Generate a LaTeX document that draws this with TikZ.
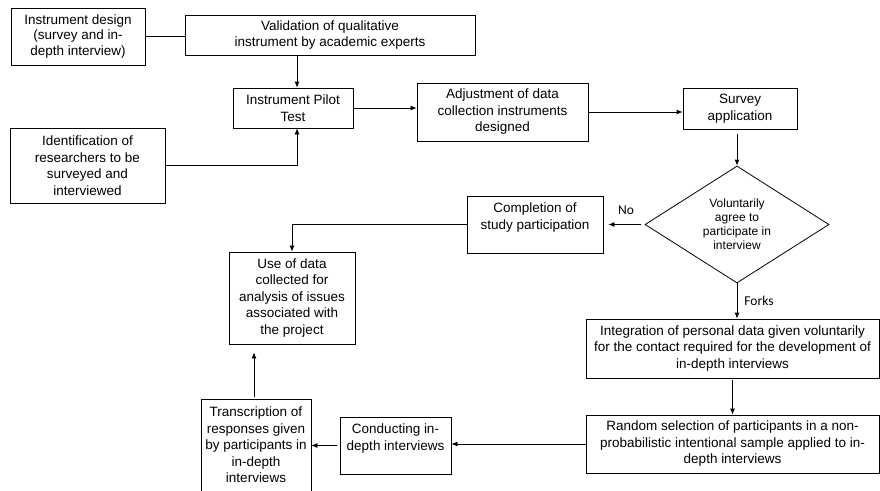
\documentclass[tikz,border=0pt]{standalone}
\usepackage{fontspec}
\setmainfont{Liberation Sans}
\newfontfamily\labelfont{Carlito}
\usetikzlibrary{arrows.meta, shapes.geometric}

\begin{document}
\begin{tikzpicture}[x=1pt, y=-1pt, line width=0.8pt,
        box/.style={draw, align=center, inner sep=0pt, font=\fontsize{13.5}{16.5}\selectfont},
        arr/.style={-{Latex[length=6pt, width=5pt]}},
        every label/.style={font=\labelfont\fontsize{13.5}{16}\selectfont}]
            \useasboundingbox (0,0) rectangle (880,490);
            \clip (0,0) rectangle (880,490);

            \node[box, minimum width=134pt, minimum height=57pt, font=\fontsize{13.5}{15.2}\selectfont] (design) at (78,36.5) {Instrument design\\(survey and in-\\depth interview)};
            \node[box, minimum width=290pt, minimum height=40pt] (valid) at (330,35) {Validation of qualitative\\instrument by academic experts};
            \node[box, minimum width=120pt, minimum height=40pt] (pilot) at (293,108) {Instrument Pilot\\Test};
            \node[box, minimum width=155pt, minimum height=75pt] (ident) at (87.5,165.5) {Identification of\\researchers to be\\surveyed and\\interviewed};
            \node[box, minimum width=171pt, minimum height=58pt] (adjust) at (502.5,112) {Adjustment of data\\collection instruments\\designed};
            \node[box, minimum width=114pt, minimum height=41pt] (survey) at (740,108.5) {Survey\\application};
            \node[draw, shape=diamond, aspect=1.6, inner sep=0pt, minimum width=184pt, minimum height=117pt, align=center, font=\fontsize{12}{14}\selectfont] (agree) at (737,224.5) {Voluntarily\\agree to\\participate in\\interview};
            \node[box, minimum width=136pt, minimum height=57pt] (complete) at (535,224.5) {Completion of\\study participation\\ };
            \node[box, minimum width=126pt, minimum height=92pt] (usedata) at (292,298) {Use of data\\collected for\\analysis of issues\\associated with\\the project};
            \node[box, minimum width=293pt, minimum height=59pt] (integ) at (732.5,348.5) {Integration of personal data given voluntarily\\for the contact required for the development of\\in-depth interviews};
            \node[box, minimum width=293pt, minimum height=58pt] (random) at (732.5,444) {Random selection of participants in a non-\\probabilistic intentional sample applied to in-\\depth interviews};
            \node[box, minimum width=111pt, minimum height=57pt] (conduct) at (395.5,445.5) {Conducting in-\\depth interviews\\ };
            \node[box, minimum width=110pt, minimum height=92pt] (transcr) at (256,445) {Transcription of\\responses given\\by participants in\\in-depth\\interviews};

            \draw (design.east) -- (design.east -| valid.west);
            \draw[arr] ([xshift=4pt]pilot.north |- valid.south) -- ([xshift=4pt]pilot.north);
            \draw[arr] (ident.east) -| ([xshift=4pt]pilot.south);
            \draw[arr] (pilot.east) -- (pilot.east -| adjust.west);
            \draw[arr] (adjust.east) -- (adjust.east -| survey.west);
            \draw[arr, shorten <=5pt] (agree.north |- survey.south) -- (agree.north);
            \draw[arr, shorten <=4pt, shorten >=5pt] (agree.west) -- (complete.east) node[pos=0.45, label={[yshift=2pt]above:No}] {};
            \draw[arr] (complete.west) -| (usedata.north);
            \draw[arr] (agree.south) -- (agree.south |- integ.north) node[midway, label=right:Forks] {};
            \draw[arr, shorten <=2pt] (integ.south) -- (random.north);
            \draw[arr] (random.west) -- (random.west -| conduct.east);
            \draw[arr, shorten <=3pt] (conduct.west) -- (conduct.west -| transcr.east);
            \draw[arr, shorten <=2pt, shorten >=8pt] ([xshift=-2pt]transcr.north) -- ([xshift=-2pt]transcr.north |- usedata.south);
        \end{tikzpicture}
\end{document}
